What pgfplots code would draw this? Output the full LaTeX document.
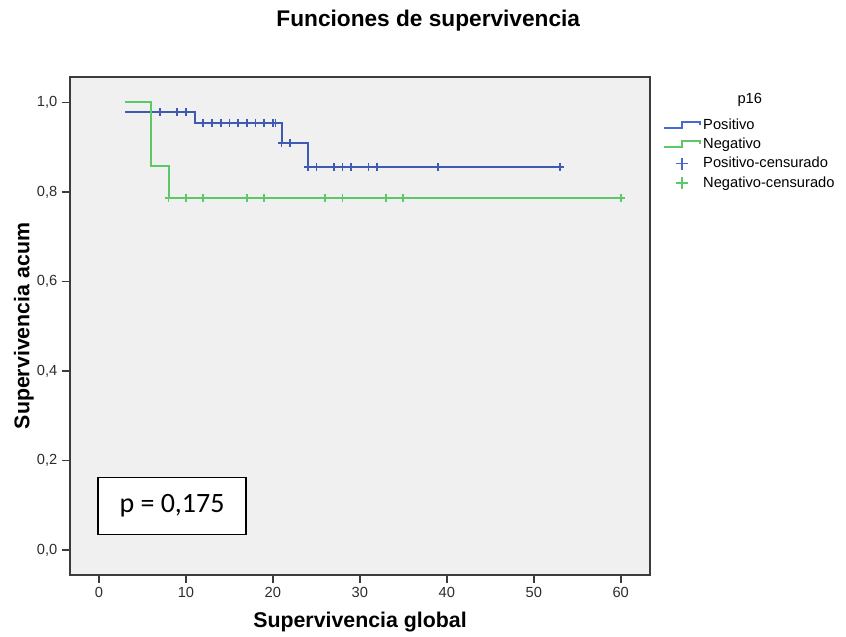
\documentclass[border=0pt]{standalone}
\usepackage{fontspec}
\setmainfont{Liberation Sans}
\newfontfamily\calibri{Carlito}
\usepackage{pgfplots}
\pgfplotsset{compat=1.18}
\definecolor{kmblue}{RGB}{62,90,178}
\definecolor{kmgreen}{RGB}{92,200,104}
\definecolor{legblue}{RGB}{72,104,210}
\definecolor{panel}{RGB}{240,240,240}
\definecolor{frame}{RGB}{60,60,60}
\definecolor{ticktext}{RGB}{45,45,45}
\pgfplotsset{
    bluestep/.style={legend image code/.code={%
        \draw[line width=1.15pt, draw=legblue] (0pt,-2pt) -- (13.5pt,-2pt) -- (13.5pt,2.5pt) -- (27pt,2.5pt) -- (27pt,0pt);}},
    greenstep/.style={legend image code/.code={%
        \draw[line width=1.15pt, draw=kmgreen] (0pt,-2pt) -- (13.5pt,-2pt) -- (13.5pt,2.5pt) -- (27pt,2.5pt) -- (27pt,0pt);}},
    bluecens/.style={legend image code/.code={%
        \path[draw=none, fill=none] (0pt,0pt) -- (27pt,0pt);
        \draw[line width=1.15pt, draw=legblue] (9pt,0pt) -- (18pt,0pt) (13.5pt,-4.5pt) -- (13.5pt,4.5pt);}},
    greencens/.style={legend image code/.code={%
        \path[draw=none, fill=none] (0pt,0pt) -- (27pt,0pt);
        \draw[line width=1.15pt, draw=kmgreen] (9pt,0pt) -- (18pt,0pt) (13.5pt,-4.5pt) -- (13.5pt,4.5pt);}},
}

\begin{document}
\begin{tikzpicture}
\path[use as bounding box] (0,0) rectangle (634.5pt,477pt);
\node[anchor=base, font=\fontsize{17}{20}\selectfont\bfseries] at (321.2pt,457pt) {Funciones de supervivencia};
\begin{axis}[
    at={(52.5pt,45.75pt)}, anchor=south west,
    scale only axis, width=435pt, height=373.5pt,
    xmin=-3.335, xmax=63.37, ymin=-0.0559, ymax=1.0568,
    axis background/.style={fill=panel},
    axis line style={frame, line width=1.2pt},
    tick style={frame, line width=1.2pt},
    tick align=outside, major tick length=6pt,
    xtick pos=bottom, ytick pos=left,
    xtick={0,10,20,30,40,50,60},
    ytick={0,0.2,0.4,0.6,0.8,1.0},
    yticklabel style={/pgf/number format/.cd, fixed, fixed zerofill, precision=1, use comma},
    /pgf/number format/assume math mode=true,
    ticklabel style={font=\fontsize{11}{13}\selectfont, text=ticktext},
    xlabel={Supervivencia global},
    ylabel={Supervivencia acum},
    label style={font=\fontsize{16}{19}\selectfont\bfseries},
    xlabel style={at={(axis description cs:0.5,-0.1064)}, anchor=base},
    ylabel style={at={(axis description cs:-0.0700,0.5)}, anchor=base, rotate=0},
    legend style={at={(rel axis cs:1.022,0.922)}, anchor=north west,
        draw=none, fill=none, inner sep=0pt, row sep=1pt,
        font=\fontsize{11}{13}\selectfont},
    legend cell align=left,
    clip=false,
]
\addplot[kmblue, line width=1.5pt, const plot, bluestep]
    coordinates {(3,0.978) (11,0.955) (21,0.909) (24,0.856) (53,0.856)};
\addlegendentry{Positivo}
\addplot[kmgreen, line width=1.5pt, const plot, greenstep]
    coordinates {(3,1.0) (6,0.857) (8,0.786) (60,0.786)};
\addlegendentry{Negativo}
\addplot[kmblue, only marks, mark=+, mark size=3pt, line width=1.3pt, bluecens]
    coordinates {(7,0.978) (9,0.978) (10,0.978)
        (12,0.955) (13,0.955) (14,0.955) (15,0.955) (16,0.955) (17,0.955)
        (18,0.955) (19,0.955) (20,0.955) (20.3,0.955)
        (21,0.909) (22,0.909)
        (24,0.856) (25,0.856) (27,0.856) (28,0.856) (29,0.856) (31,0.856)
        (32,0.856) (39,0.856) (53,0.856)};
\addlegendentry{Positivo-censurado}
\addplot[kmgreen, only marks, mark=+, mark size=3pt, line width=1.3pt, greencens]
    coordinates {(8,0.786) (10,0.786) (12,0.786) (17,0.786) (19,0.786)
        (26,0.786) (28,0.786) (33,0.786) (35,0.786) (60,0.786)};
\addlegendentry{Negativo-censurado}
\node[anchor=base, font=\fontsize{11}{13}\selectfont] at (rel axis cs:1.172,0.947) {p16};
\node[draw=black, line width=1.1pt, fill=white, minimum width=111pt, minimum height=42.75pt,
    inner sep=0pt, font=\calibri\fontsize{21}{25}\selectfont] at (axis cs:8.40,0.0988) {p = 0,175};
\end{axis}
\end{tikzpicture}
\end{document}
